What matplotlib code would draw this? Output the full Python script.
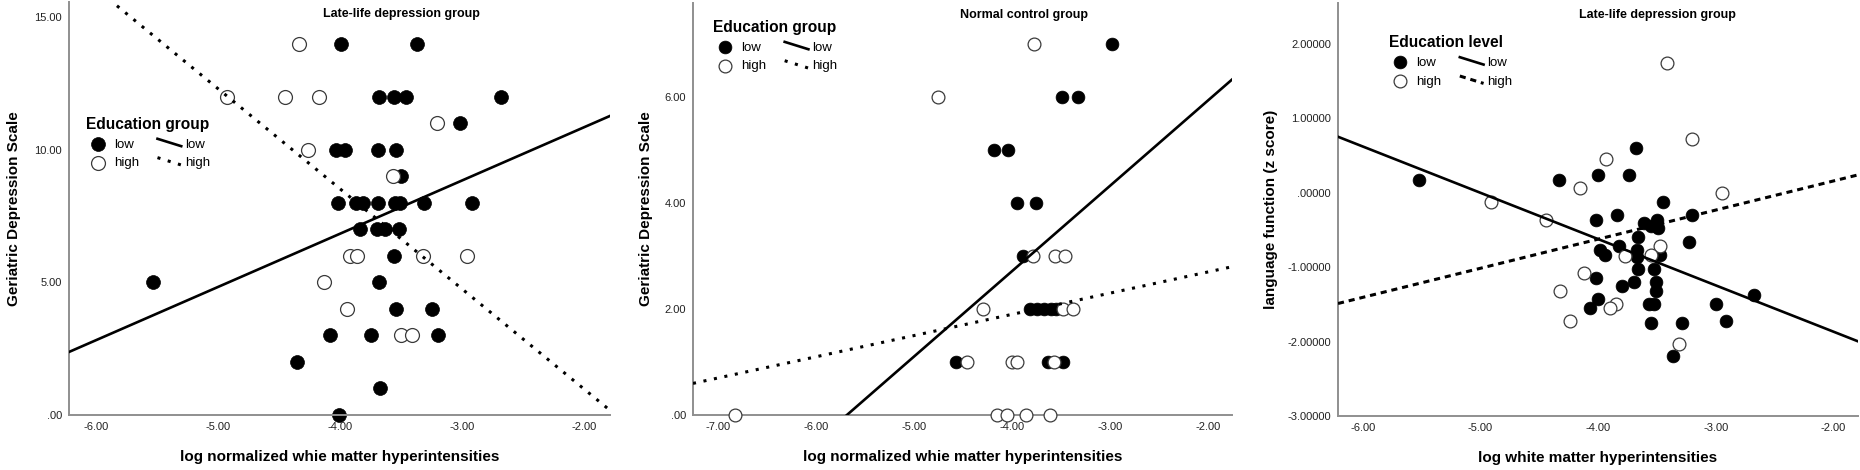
import numpy as np
import matplotlib
matplotlib.use("Agg")
import matplotlib.pyplot as plt
from matplotlib.lines import Line2D
from matplotlib.legend_handler import HandlerBase
from matplotlib.ticker import FuncFormatter

plt.rcParams['font.family'] = ['Liberation Sans', 'DejaVu Sans']

# panel 1: late-life depression, GDS vs log normalized WMH
p1_low_x = [-3.995, -3.37, -3.68, -3.56, -3.46, -2.68, -3.02, -4.03, -3.96, -3.69, -3.54,
            -3.50, -4.02, -3.87, -3.81, -3.69, -3.55, -3.51, -3.31, -2.92, -3.84, -3.70,
            -3.63, -3.52, -3.56, -5.53, -3.68, -3.54, -3.245, -4.08, -3.75, -3.20, -4.35,
            -3.67, -4.01]
p1_low_y = [14, 14, 12, 12, 12, 12, 11, 10, 10, 10, 10, 9, 8, 8, 8, 8, 8, 8, 8, 8, 7, 7,
            7, 7, 6, 5, 5, 4, 4, 3, 3, 3, 2, 1, 0]
p1_high_x = [-4.335, -4.93, -4.45, -4.17, -3.21, -4.26, -3.57, -3.92, -3.86, -3.32, -2.96,
             -4.13, -3.94, -3.50, -3.41]
p1_high_y = [14, 12, 12, 12, 11, 10, 9, 6, 6, 6, 6, 5, 4, 3, 3]
p1_fit_low = (2.01, 14.88)    # slope, intercept
p1_fit_high = (-3.78, -6.59)

# panel 2: normal controls
p2_low_x = [-2.98, -3.49, -3.33, -4.19, -4.05, -3.95, -3.76, -3.89, -3.82, -3.75, -3.68,
            -3.61, -3.56, -4.58, -3.64, -3.48]
p2_low_y = [7, 6, 6, 5, 5, 4, 4, 3, 2, 2, 2, 2, 2, 1, 1, 1]
p2_high_x = [-3.78, -4.76, -3.79, -3.57, -3.46, -4.30, -3.48, -3.38, -4.46, -4.01, -3.95,
             -3.58, -6.83, -4.16, -4.06, -3.86, -3.62]
p2_high_y = [7, 6, 3, 3, 3, 2, 2, 2, 1, 1, 1, 1, 0, 0, 0, 0, 0]
p2_fit_low = (1.61, 9.16)
p2_fit_high = (0.40, 3.50)

# panel 3: language function vs log WMH
p3_low_x = [-5.52, -4.33, -4.00, -3.74, -3.68, -3.45, -4.02, -3.84, -3.20, -3.61, -3.50,
            -3.49, -3.55, -3.66, -3.23, -3.98, -3.94, -3.82, -3.67, -3.67, -3.47, -3.66,
            -3.52, -4.02, -3.69, -3.51, -3.80, -3.51, -4.00, -4.07, -3.57, -3.52, -3.00,
            -2.67, -3.55, -3.29, -2.91, -3.36]
p3_low_y = [0.17, 0.17, 0.24, 0.24, 0.60, -0.12, -0.36, -0.30, -0.30, -0.41, -0.36,
            -0.48, -0.45, -0.60, -0.66, -0.77, -0.84, -0.72, -0.77, -0.86, -0.84, -1.02,
            -1.02, -1.14, -1.20, -1.20, -1.25, -1.32, -1.43, -1.55, -1.50, -1.50, -1.50,
            -1.37, -1.75, -1.75, -1.73, -2.20]
p3_high_x = [-4.91, -4.44, -4.15, -3.93, -3.41, -3.20, -2.95, -3.77, -3.47, -3.55, -4.12,
             -4.32, -3.85, -3.90, -4.24, -3.31]
p3_high_y = [-0.12, -0.37, 0.06, 0.46, 1.75, 0.72, 0.00, -0.85, -0.72, -0.84, -1.08,
             -1.32, -1.50, -1.55, -1.73, -2.03]
p3_fit_low = (-0.622, -3.11)
p3_fit_high = (0.391, 0.94)

titles = ["Late-life depression group", "Normal control group", "Late-life depression group"]
xlabels = ["log normalized whie matter hyperintensities",
           "log normalized whie matter hyperintensities",
           "log white matter hyperintensities"]
ylabels = ["Geriatric Depression Scale", "Geriatric Depression Scale",
           "language function (z score)"]
legend_titles = ["Education group", "Education group", "Education level"]


class SlantLine(HandlerBase):
    # SPSS draws the line samples at a slant
    def create_artists(self, legend, orig_handle, xdescent, ydescent, width, height,
                       fontsize, trans):
        ln = Line2D([-xdescent, -xdescent + width], [-ydescent + height * 0.95, -ydescent + height * 0.15])
        self.update_prop(ln, orig_handle, legend)
        ln.set_transform(trans)
        return [ln]


def spss_fmt(dec):
    def f(v, pos):
        s = f"{v:.{dec}f}"
        if s.startswith("0."):
            s = s[1:]
        elif s.startswith("-0."):
            s = "-" + s[2:]
        return s
    return FuncFormatter(f)


fig = plt.figure(figsize=(18.6, 4.7), dpi=100)

boxes = [[69 / 1860, 55 / 470, 541 / 1860, 413 / 470],
         [693 / 1860, 55 / 470, 539 / 1860, 412 / 470],
         [1338 / 1860, 54 / 470, 520 / 1860, 413 / 470]]
xlims = [(-6.22, -1.79), (-7.26, -1.76), (-6.21, -1.79)]
ylims = [(0, 15.58), (0, 7.77), (-3.0, 2.55)]
xticks = [np.arange(-6, -1.5, 1), np.arange(-7, -1.5, 1), np.arange(-6, -1.5, 1)]
yticks = [[0, 5, 10, 15], [0, 2, 4, 6], [-3, -2, -1, 0, 1, 2]]
ydec = [2, 2, 5]
ylab_x = [-0.089, -0.074, -0.115]
leg_anchor = [(0.022, 0.735), (0.028, 0.972), (0.087, 0.935)]
sizes = [100, 85, 85]
high_ls = [(0, (1, 2.5)), (0, (1, 2.5)), (0, (2, 1.6))]

data = [(p1_low_x, p1_low_y, p1_high_x, p1_high_y, p1_fit_low, p1_fit_high),
        (p2_low_x, p2_low_y, p2_high_x, p2_high_y, p2_fit_low, p2_fit_high),
        (p3_low_x, p3_low_y, p3_high_x, p3_high_y, p3_fit_low, p3_fit_high)]

for i, (lx, ly, hx, hy, fl, fh) in enumerate(data):
    ax = fig.add_axes(boxes[i])
    ax.set_xlim(*xlims[i])
    ax.set_ylim(*ylims[i])

    sc_low = ax.scatter(lx, ly, s=sizes[i], c='black', edgecolors='black', linewidths=0.5,
                        zorder=2, clip_on=False)
    sc_high = ax.scatter(hx, hy, s=sizes[i], c='white', edgecolors='#3a3a3a', linewidths=0.9,
                         zorder=3, clip_on=False)

    xx = np.array(xlims[i])
    ln_low, = ax.plot(xx, fl[1] + fl[0] * xx, color='black', lw=1.9, zorder=4)
    ln_high, = ax.plot(xx, fh[1] + fh[0] * xx, color='black', lw=2.2, ls=high_ls[i], zorder=4)

    ax.set_xticks(xticks[i])
    ax.set_yticks(yticks[i])
    ax.xaxis.set_major_formatter(spss_fmt(2))
    ax.yaxis.set_major_formatter(spss_fmt(ydec[i]))
    ax.tick_params(length=0, labelsize=8, colors='#222222', pad=5)

    for side in ['top', 'right']:
        ax.spines[side].set_visible(False)
    for side in ['left', 'bottom']:
        ax.spines[side].set_color('#8f8f8f')
        ax.spines[side].set_linewidth(1.4)

    ax.set_xlabel(xlabels[i], fontsize=11, fontweight='bold')
    ax.xaxis.set_label_coords(0.5, -0.085)
    ax.set_ylabel(ylabels[i], fontsize=11, fontweight='bold')
    ax.yaxis.set_label_coords(ylab_x[i], 0.5)

    ax.text(0.615, 0.985, titles[i], transform=ax.transAxes, ha='center', va='top',
            fontsize=9, fontweight='bold')

    leg = ax.legend([sc_low, sc_high, ln_low, ln_high], ['low', 'high', 'low', 'high'],
                    ncol=2, frameon=False, loc='upper left', bbox_to_anchor=leg_anchor[i],
                    title=legend_titles[i], alignment='left', fontsize=9.5,
                    title_fontproperties={'weight': 'bold', 'size': 11.2},
                    handlelength=1.8, handletextpad=0.3, columnspacing=1.4,
                    labelspacing=0.5, borderaxespad=0, scatterpoints=1,
                    handler_map={ln_low: SlantLine(), ln_high: SlantLine()})
    leg.set_zorder(5)

fig.savefig("out.png", dpi=100)
